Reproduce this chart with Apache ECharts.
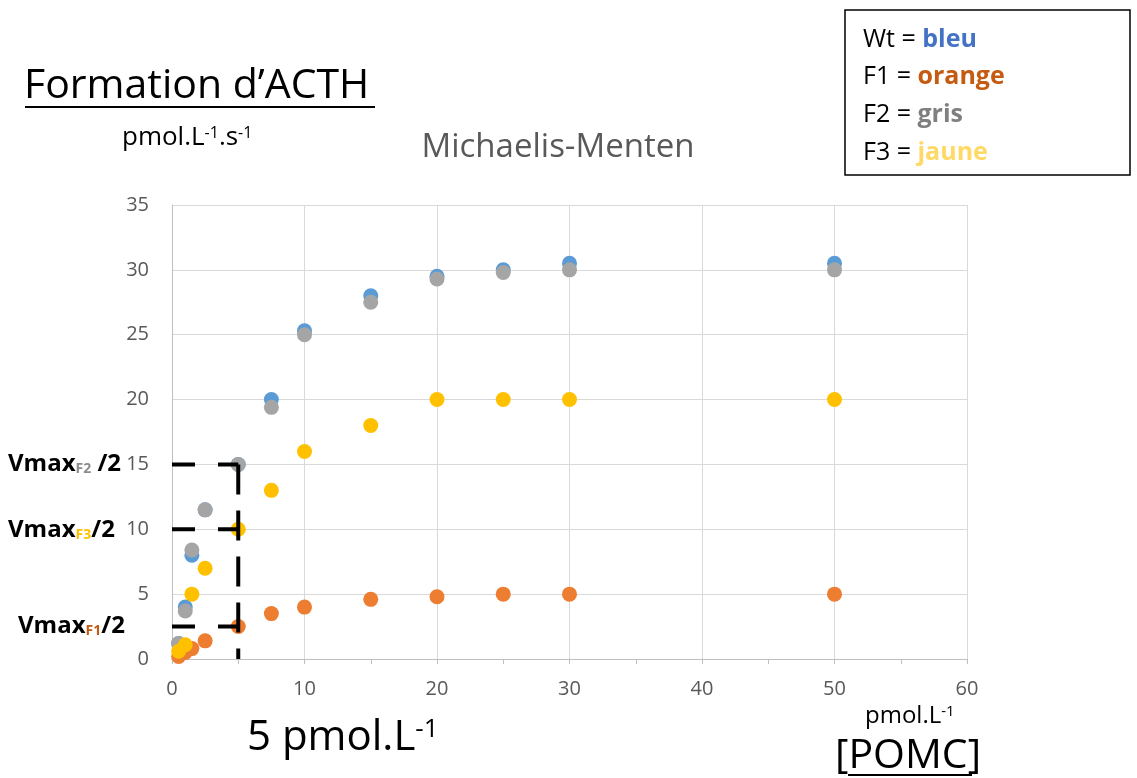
<!DOCTYPE html>
<html>
<head>
<meta charset="utf-8">
<script src="https://cdn.jsdelivr.net/npm/echarts@6/dist/echarts.min.js"></script>
<style>
  html, body { margin: 0; padding: 0; background: #fff; }
  #chart { width: 1137px; height: 778px; }
</style>
</head>
<body>
<div id="chart"></div>
<script>
// [POMC] concentrations (pmol.L-1)
const pomc = [0.5, 1, 1.5, 2.5, 5, 7.5, 10, 15, 20, 25, 30, 50];
// ACTH formation rates (pmol.L-1.s-1) per enzyme variant
const wt = [1.2, 4.0, 8.0, 11.5, 15.0, 20.0, 25.3, 28.0, 29.5, 30.0, 30.5, 30.5];
const f1 = [0.2, 0.5, 0.8, 1.4, 2.5, 3.5, 4.0, 4.6, 4.8, 5.0, 5.0, 5.0];
const f2 = [1.2, 3.7, 8.4, 11.5, 15.0, 19.4, 25.0, 27.5, 29.3, 29.8, 30.0, 30.0];
const f3 = [0.6, 1.1, 5.0, 7.0, 10.0, 13.0, 16.0, 18.0, 20.0, 20.0, 20.0, 20.0];
// Vmax/2 levels for F2, F3, F1 and the shared Km
const halfVmax = [15, 10, 2.5];
const km = 5;
// Axis ticks
const xTicks = [0, 10, 20, 30, 40, 50, 60];
const yTicks = [0, 5, 10, 15, 20, 25, 30, 35];

const FONT = '"Open Sans", "Liberation Sans", sans-serif';
const pts = arr => pomc.map((x, i) => [x, arr[i]]);

const scatter = (name, arr, color) => ({
  name, type: 'scatter', data: pts(arr), symbolSize: 15,
  itemStyle: { color: color, opacity: 1 }, z: 3
});

const guides = halfVmax.map(v => ({
  type: 'line', data: [[0, v], [km, v]], symbol: 'none', silent: true,
  lineStyle: { color: '#000', width: 4, type: [23, 23] }, z: 5
}));
guides.push({
  type: 'line', data: [[km, Math.max(...halfVmax)], [km, 0]], symbol: 'none', silent: true,
  lineStyle: { color: '#000', width: 4, type: [30, 16] }, z: 5
});

const chart = echarts.init(document.getElementById('chart'));
chart.setOption({
  animation: false,
  backgroundColor: '#fff',
  grid: { left: 172, right: 170, top: 205, bottom: 119, containLabel: false },
  xAxis: {
    type: 'value', min: xTicks[0], max: xTicks[xTicks.length - 1], interval: 10,
    axisLine: { onZero: false, lineStyle: { color: '#BFBFBF', width: 1 } },
    axisTick: { show: true, length: 5, lineStyle: { color: '#BFBFBF' } },
    minorTick: { show: true, splitNumber: 2, length: 5, lineStyle: { color: '#BFBFBF' } },
    splitLine: { show: true, lineStyle: { color: '#D9D9D9', width: 1 } },
    axisLabel: { color: '#595959', fontSize: 20, fontFamily: FONT, margin: 20 }
  },
  yAxis: {
    type: 'value', min: yTicks[0], max: yTicks[yTicks.length - 1], interval: 5,
    axisLine: { show: true, lineStyle: { color: '#BFBFBF', width: 1 } },
    axisTick: { show: false },
    splitLine: { show: true, lineStyle: { color: '#D9D9D9', width: 1 } },
    axisLabel: { color: '#595959', fontSize: 20, fontFamily: FONT, margin: 23 }
  },
  series: [
    scatter('Wt', wt, '#5B9BD5'),
    scatter('F1', f1, '#ED7D31'),
    scatter('F2', f2, '#A5A5A5'),
    scatter('F3', f3, '#FFC000'),
    ...guides
  ],
  graphic: [
    // Main heading
    { type: 'text', x: 24, y: 86, style: { text: 'Formation d’ACTH', font: '41px ' + FONT, fill: '#000', verticalAlign: 'middle' } },
    { type: 'rect', shape: { x: 25, y: 106, width: 350, height: 2 }, style: { fill: '#000' } },
    // Y unit
    { type: 'text', x: 122, y: 138, style: {
      text: '{m|pmol.L}{s|-1}{m|.s}{s|-1}', verticalAlign: 'middle',
      rich: { m: { font: '26px ' + FONT, fill: '#000', verticalAlign: 'bottom' },
              s: { font: '16px ' + FONT, fill: '#000', verticalAlign: 'top' } } } },
    // Chart title
    { type: 'text', x: 558, y: 148, style: { text: 'Michaelis-Menten', font: '33px ' + FONT, fill: '#595959', align: 'center', verticalAlign: 'middle' } },
    // Colour key
    { type: 'rect', shape: { x: 845, y: 10, width: 285, height: 165 }, style: { fill: '#fff', stroke: '#000', lineWidth: 1.5 } },
    { type: 'text', x: 863, y: 40, style: { text: '{n|Wt = }{c|bleu}', verticalAlign: 'middle',
      rich: { n: { font: '25px ' + FONT, fill: '#000' }, c: { font: 'bold 25px ' + FONT, fill: '#4472C4' } } } },
    { type: 'text', x: 863, y: 77, style: { text: '{n|F1 = }{c|orange}', verticalAlign: 'middle',
      rich: { n: { font: '25px ' + FONT, fill: '#000' }, c: { font: 'bold 25px ' + FONT, fill: '#C55A11' } } } },
    { type: 'text', x: 863, y: 115, style: { text: '{n|F2 = }{c|gris}', verticalAlign: 'middle',
      rich: { n: { font: '25px ' + FONT, fill: '#000' }, c: { font: 'bold 25px ' + FONT, fill: '#808080' } } } },
    { type: 'text', x: 863, y: 153, style: { text: '{n|F3 = }{c|jaune}', verticalAlign: 'middle',
      rich: { n: { font: '25px ' + FONT, fill: '#000' }, c: { font: 'bold 25px ' + FONT, fill: '#FFD966' } } } },
    // Vmax/2 annotations
    { type: 'text', x: 8, y: 464, style: { text: '{v|Vmax}{s|F2}{v| /2}', verticalAlign: 'middle',
      rich: { v: { font: 'bold 24px ' + FONT, fill: '#000', verticalAlign: 'top' },
              s: { font: 'bold 14px ' + FONT, fill: '#8C8C8C', verticalAlign: 'bottom' } } } },
    { type: 'text', x: 8, y: 530, style: { text: '{v|Vmax}{s|F3}{v|/2}', verticalAlign: 'middle',
      rich: { v: { font: 'bold 24px ' + FONT, fill: '#000', verticalAlign: 'top' },
              s: { font: 'bold 14px ' + FONT, fill: '#FFC000', verticalAlign: 'bottom' } } } },
    { type: 'text', x: 18, y: 626, style: { text: '{v|Vmax}{s|F1}{v|/2}', verticalAlign: 'middle',
      rich: { v: { font: 'bold 24px ' + FONT, fill: '#000', verticalAlign: 'top' },
              s: { font: 'bold 14px ' + FONT, fill: '#C55A11', verticalAlign: 'bottom' } } } },
    // Km annotation
    { type: 'text', x: 247, y: 738, style: { text: '{m|5 pmol.L}{s|-1}', verticalAlign: 'middle',
      rich: { m: { font: '42px ' + FONT, fill: '#000', verticalAlign: 'bottom' },
              s: { font: '26px ' + FONT, fill: '#000', verticalAlign: 'top' } } } },
    // X unit and label
    { type: 'text', x: 865, y: 716, style: { text: '{m|pmol.L}{s|-1}', verticalAlign: 'middle',
      rich: { m: { font: '24px ' + FONT, fill: '#000', verticalAlign: 'bottom' },
              s: { font: '15px ' + FONT, fill: '#000', verticalAlign: 'top' } } } },
    { type: 'text', x: 835, y: 756, style: { text: '[POMC]', font: '41px ' + FONT, fill: '#000', verticalAlign: 'middle' } },
    { type: 'rect', shape: { x: 848, y: 774, width: 124, height: 2 }, style: { fill: '#000' } }
  ]
});
</script>
</body>
</html>
